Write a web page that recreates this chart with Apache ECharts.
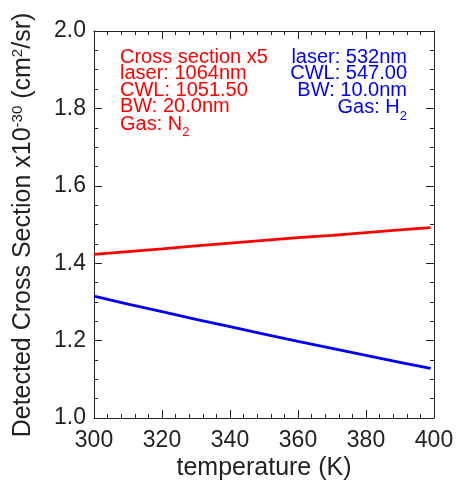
<!DOCTYPE html>
<html>
<head>
<meta charset="utf-8">
<script src="https://cdn.jsdelivr.net/npm/echarts@6/dist/echarts.min.js"></script>
<style>
  html, body { margin: 0; padding: 0; background: #fff; }
  #chart { width: 458px; height: 480px; }
</style>
</head>
<body>
<div id="chart"></div>
<script>
// Temperature samples (K)
const temperatures = [300, 310, 320, 330, 340, 350, 360, 370, 380, 390, 399];
// N2, 1064 nm laser, cross section scaled x5 (1e-30 cm^2/sr)
const n2Values = [1.423, 1.430, 1.437, 1.445, 1.452, 1.459, 1.466, 1.472, 1.479, 1.486, 1.492];
// H2, 532 nm laser (1e-30 cm^2/sr)
const h2Values = [1.315, 1.294, 1.275, 1.255, 1.236, 1.217, 1.198, 1.180, 1.162, 1.144, 1.128];

const xTicks = { min: 300, max: 400, interval: 20, minor: 5 };
const yTicks = { min: 1.0, max: 2.0, interval: 0.2, minor: 4 };

const n2Notes = ['Cross section x5', 'laser: 1064nm', 'CWL: 1051.50', 'BW: 20.0nm', '{t|Gas: N}{s|2}'];
const h2Notes = ['laser: 532nm', 'CWL: 547.00', 'BW: 10.0nm', '{t|Gas: H}{s|2}'];
const yTitle = '{t|Detected Cross Section x10}{p|-30}{t| (cm}{p|2}{t|/sr)}';
const xTitle = 'temperature (K)';

const FONT = '"Liberation Sans", Arial, Helvetica, sans-serif';
const INK = '#222';

const pair = (a, b) => a.map((v, i) => [v, b[i]]);

function boxAxis(ticks, pos, showLabel, fmt) {
  return {
    type: 'value',
    position: pos,
    min: ticks.min, max: ticks.max, interval: ticks.interval,
    axisLine: { show: true, onZero: false, lineStyle: { color: INK, width: 1 } },
    axisTick: { show: true, inside: true, length: 8, lineStyle: { color: INK, width: 1 } },
    minorTick: { show: true, splitNumber: ticks.minor, length: 4, lineStyle: { color: INK, width: 1 } },
    splitLine: { show: false },
    minorSplitLine: { show: false },
    axisLabel: {
      show: showLabel,
      color: INK,
      fontFamily: FONT,
      fontSize: 23,
      margin: pos === 'bottom' ? 11 : 8,
      formatter: fmt
    }
  };
}

// One annotation line per row; the "2" in gas names is drawn as a subscript
function noteBlock(lines, x, align, color) {
  return lines.map((s, i) => {
    const hasSub = s.indexOf('{s|') >= 0;
    return {
      type: 'text',
      style: {
        x: x, y: 57 + i * 16.5 + (hasSub ? 1 : 0),
        text: hasSub ? s : '{t|' + s + '}',
        fill: color,
        textAlign: align,
        textVerticalAlign: 'middle',
        rich: {
          t: { fontFamily: FONT, fontSize: 20, fill: color, lineHeight: 20, verticalAlign: 'top' },
          s: { fontFamily: FONT, fontSize: 13, fill: color, lineHeight: 10, verticalAlign: 'top', padding: [12, 0, 0, 0] }
        }
      },
      z: 10
    };
  });
}

const chart = echarts.init(document.getElementById('chart'), null, { renderer: 'canvas' });

chart.setOption({
  backgroundColor: '#ffffff',
  animation: false,
  grid: { left: 94, right: 24, top: 31, bottom: 62, containLabel: false },
  xAxis: [
    boxAxis(xTicks, 'bottom', true, v => String(v)),
    boxAxis(xTicks, 'top', false)
  ],
  yAxis: [
    boxAxis(yTicks, 'left', true, v => v.toFixed(1)),
    boxAxis(yTicks, 'right', false)
  ],
  series: [
    {
      type: 'line', xAxisIndex: 0, yAxisIndex: 0,
      data: pair(temperatures, n2Values),
      showSymbol: false, smooth: false,
      lineStyle: { color: '#ff0000', width: 2.8 }
    },
    {
      type: 'line', xAxisIndex: 0, yAxisIndex: 0,
      data: pair(temperatures, h2Values),
      showSymbol: false, smooth: false,
      lineStyle: { color: '#0000ff', width: 2.8 }
    }
  ],
  graphic: [
    ...noteBlock(n2Notes, 120, 'left', '#ff0000'),
    ...noteBlock(h2Notes, 407, 'right', '#0000ff'),
    {
      type: 'text',
      x: 23, y: 225,
      rotation: Math.PI / 2,
      style: {
        text: yTitle,
        x: 0, y: 0,
        textAlign: 'center',
        textVerticalAlign: 'middle',
        fill: INK,
        rich: {
          t: { fontFamily: FONT, fontSize: 25, fill: INK, lineHeight: 26 },
          p: { fontFamily: FONT, fontSize: 15, fill: INK, lineHeight: 15, verticalAlign: 'top' }
        }
      }
    },
    {
      type: 'text',
      style: {
        x: 264, y: 468,
        text: xTitle,
        fill: INK,
        font: '25px ' + FONT,
        textAlign: 'center',
        textVerticalAlign: 'middle'
      }
    }
  ]
});
</script>
</body>
</html>
